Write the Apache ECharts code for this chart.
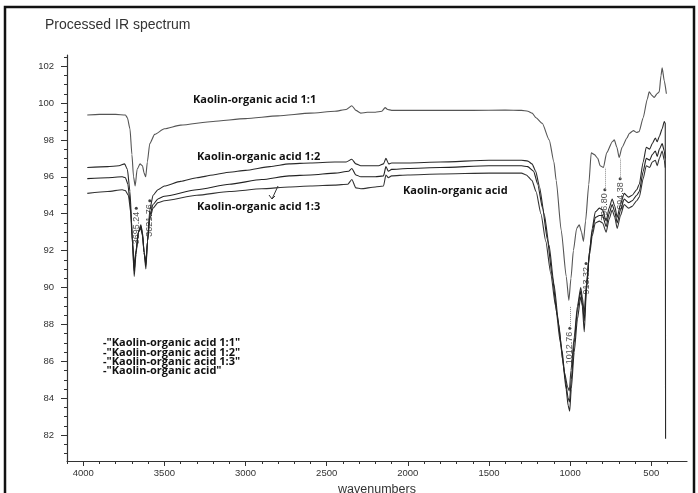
<!DOCTYPE html>
<html>
<head>
<meta charset="utf-8">
<script src="https://cdn.jsdelivr.net/npm/echarts@6/dist/echarts.min.js"></script>
<style>
html, body { margin: 0; background: #fff; }
#main { width: 698px; height: 493px; }
</style>
</head>
<body>
<div id="main"></div>
<script>
// [wavenumber, %T]
var ir11 = [[3975,99.35],[3900,99.38],[3800,99.38],[3740,99.35],[3728,99.2],[3712,98.6],[3700,97.2],[3690,96.0],[3680,95.5],[3668,96.4],[3650,96.7],[3635,96.6],[3625,96.2],[3615,96.0],[3605,96.8],[3590,97.8],[3560,98.3],[3500,98.6],[3400,98.8],[3200,99.0],[3000,99.15],[2800,99.3],[2600,99.45],[2450,99.55],[2380,99.65],[2345,99.85],[2320,99.6],[2290,99.45],[2250,99.5],[2200,99.5],[2160,99.55],[2140,99.75],[2125,99.65],[2100,99.6],[1950,99.6],[1800,99.6],[1600,99.6],[1400,99.62],[1300,99.6],[1260,99.55],[1234,99.45],[1210,99.2],[1172,98.9],[1129,98.0],[1100,96.8],[1086,95.8],[1055,93.1],[1024,90.6],[1008,89.3],[995,90.5],[980,92.0],[960,93.2],[944,93.4],[930,93.0],[918,92.5],[905,93.6],[885,95.6],[870,97.3],[850,97.2],[830,97.0],[815,96.6],[795,96.5],[775,97.3],[740,97.9],[728,98.0],[712,97.6],[698,97.05],[680,97.6],[650,98.1],[636,98.35],[610,98.5],[590,98.4],[575,98.45],[550,99.2],[525,100.2],[513,100.6],[495,100.4],[482,100.3],[465,100.5],[451,100.6],[440,101.5],[433,101.9],[420,101.2],[407,100.5]];
var ir12 = [[3975,96.5],[3850,96.55],[3780,96.6],[3745,96.7],[3728,96.4],[3712,95.2],[3698,92.8],[3686,90.6],[3675,91.8],[3660,93.0],[3645,93.4],[3635,93.0],[3625,91.9],[3614,91.0],[3604,92.5],[3590,94.2],[3570,95.0],[3540,95.3],[3500,95.5],[3400,95.75],[3300,95.95],[3200,96.1],[3100,96.25],[3000,96.35],[2850,96.55],[2731,96.7],[2600,96.75],[2450,96.8],[2380,96.8],[2345,96.95],[2320,96.7],[2290,96.6],[2180,96.6],[2150,96.7],[2135,97.0],[2118,96.7],[2100,96.75],[2000,96.75],[1800,96.8],[1500,96.9],[1300,96.9],[1260,96.85],[1235,96.7],[1212,96.3],[1190,95.5],[1160,94.0],[1130,92.3],[1100,90.2],[1070,88.0],[1045,86.0],[1025,84.5],[1012,83.6],[1003,83.3],[993,84.5],[975,86.5],[955,88.3],[935,89.5],[925,89.0],[913,87.6],[900,89.8],[880,92.0],[864,93.2],[845,94.1],[820,94.3],[800,94.2],[778,93.6],[760,94.3],[741,94.8],[725,94.4],[710,93.8],[690,94.5],[667,95.1],[640,94.9],[618,95.0],[590,95.3],[574,95.6],[550,96.8],[531,97.6],[510,97.5],[494,97.8],[475,98.1],[464,97.9],[450,98.2],[433,98.6],[420,99.0],[414,98.9],[412,81.8]];
var irAcid = [[3975,95.9],[3850,95.95],[3760,96.0],[3740,95.95],[3725,95.6],[3710,94.5],[3697,92.4],[3686,90.9],[3675,91.9],[3660,93.0],[3645,93.3],[3635,92.9],[3625,91.9],[3614,91.2],[3604,92.5],[3590,93.9],[3570,94.5],[3540,94.8],[3500,94.95],[3300,95.3],[3100,95.6],[2900,95.85],[2731,96.05],[2600,96.1],[2450,96.2],[2365,96.3],[2345,96.45],[2320,96.1],[2290,96.0],[2200,96.0],[2150,96.05],[2135,96.55],[2120,96.3],[2100,96.4],[2000,96.45],[1800,96.5],[1500,96.6],[1300,96.6],[1262,96.55],[1225,96.3],[1200,95.6],[1170,94.3],[1140,92.6],[1110,90.6],[1080,88.5],[1050,86.6],[1030,85.0],[1012,84.0],[1004,83.8],[993,85.0],[975,87.0],[955,88.8],[935,89.8],[925,89.2],[913,88.2],[900,90.0],[880,92.0],[864,93.0],[845,93.8],[820,93.9],[800,93.9],[778,93.3],[760,94.0],[741,94.5],[725,94.1],[710,93.5],[690,94.2],[667,94.8],[640,94.6],[618,94.7],[590,95.0],[574,95.2],[550,96.3],[531,97.0],[510,96.9],[494,97.2],[475,97.4],[464,97.1],[450,97.5],[433,97.8],[420,97.4],[414,97.0]];
var ir13 = [[3975,95.1],[3850,95.2],[3760,95.3],[3740,95.25],[3722,95.0],[3706,94.0],[3696,92.5],[3686,91.2],[3675,92.0],[3660,93.0],[3645,93.2],[3635,92.8],[3625,91.9],[3614,91.4],[3604,92.5],[3590,93.7],[3570,94.3],[3540,94.6],[3500,94.7],[3300,95.0],[3100,95.2],[2900,95.35],[2731,95.45],[2600,95.5],[2450,95.55],[2370,95.6],[2345,95.85],[2320,95.4],[2290,95.35],[2200,95.45],[2150,95.5],[2135,96.1],[2120,95.95],[2100,96.05],[2000,96.1],[1800,96.15],[1500,96.2],[1300,96.2],[1270,96.1],[1235,95.8],[1210,95.2],[1180,94.0],[1150,92.5],[1120,90.8],[1090,89.0],[1060,87.0],[1035,85.4],[1015,84.6],[1005,84.4],[995,85.5],[975,87.3],[955,89.0],[935,90.0],[925,89.5],[913,88.6],[900,90.2],[880,91.8],[864,92.8],[845,93.5],[820,93.6],[800,93.5],[778,93.0],[760,93.7],[741,94.2],[725,93.8],[710,93.2],[690,93.9],[667,94.5],[640,94.3],[618,94.4],[590,94.7],[574,94.9],[550,95.9],[531,96.6],[510,96.5],[494,96.8],[475,96.9],[464,96.6],[450,97.0],[433,97.4],[420,96.9],[414,96.5]];

// peak picks (where the dot sits on the scan)
var peakWn = [3673, 3590, 1002, 902, 786, 692];
var peakDot = [94.3, 94.7, 87.8, 91.3, 95.3, 95.9];
var peakText = ["3695.24", "3621.76", "1012.76", "913.32", "796.80", "694.38"];
var peakTop = [null, null, 89.0, null, 96.5, 97.0];   // end of dotted guide

var xTicks = [4000, 3500, 3000, 2500, 2000, 1500, 1000, 500];
var yTicks = [82, 84, 86, 88, 90, 92, 94, 96, 98, 100, 102];
var legendNames = ['"Kaolin-organic acid 1:1"', '"Kaolin-organic acid 1:2"', '"Kaolin-organic acid 1:3"', '"Kaolin-organic acid"'];

var xMinor = [], yMinor = [];
for (var w = 400; w <= 4100; w += 100) if (w % 500) xMinor.push(w);
for (var v = 81; v <= 102.5; v += 0.5) if (v % 2) yMinor.push(v);

var chart = echarts.init(document.getElementById("main"));
var axisCol = "#333";
var lblFont = "Liberation Sans";
var noteFont = '"Open Sans"';

function curve(data, col) {
  return {
    type: "line",
    data: data,
    symbol: "none",
    smooth: 0.2,
    smoothMonotone: "x",
    lineStyle: { color: col, width: 1.1 },
    silent: true,
    z: 3
  };
}

var peakData = peakWn.map(function (w, i) { return [w, peakDot[i]]; });
var guides = [];
peakWn.forEach(function (w, i) {
  if (peakTop[i] != null) guides.push([{ coord: [w, peakDot[i]] }, { coord: [w, peakTop[i]] }]);
});

function note(txt, x, y, size) {
  return {
    type: "text", x: x, y: y, silent: true,
    style: { text: txt, font: "bold " + (size || 11) + "px " + noteFont, fill: "#111", align: "left", verticalAlign: "middle" }
  };
}

var graphics = [
  { type: "rect", silent: true, shape: { x: 5, y: 7, width: 689, height: 495 }, style: { fill: "none", stroke: "#111", lineWidth: 2.5 } },
  { type: "text", x: 45, y: 25, silent: true, style: { text: "Processed IR spectrum", font: "14px " + lblFont, fill: "#333", verticalAlign: "middle" } },
  note("Kaolin-organic acid 1:1", 193, 100),
  note("Kaolin-organic acid 1:2", 197, 157),
  note("Kaolin-organic acid 1:3", 197, 207),
  note("Kaolin-organic acid", 403, 191),
  { type: "polyline", silent: true, shape: { points: [[278, 186], [272, 199]] }, style: { stroke: "#333", lineWidth: 1 } },
  { type: "polyline", silent: true, shape: { points: [[269, 195], [272, 199], [275, 196]] }, style: { stroke: "#333", lineWidth: 1, fill: "none" } }
];
var legY = [343, 353, 362, 371];
legendNames.forEach(function (n, i) { graphics.push(note("-" + n, 103, legY[i])); });

var option = {
  animation: false,
  backgroundColor: "#fff",
  grid: { left: 67, right: 11, top: 55, bottom: 32, outerBoundsMode: "none" },
  xAxis: [
    {
      type: "value", inverse: true, min: 280, max: 4100,
      name: "wavenumbers", nameLocation: "middle", nameGap: 17,
      nameTextStyle: { color: "#333", fontSize: 12.5, fontFamily: lblFont },
      axisLine: { show: true, lineStyle: { color: axisCol, width: 1.2 } },
      axisTick: { show: true, customValues: xTicks, length: 5, lineStyle: { color: axisCol } },
      axisLabel: { customValues: xTicks, margin: 7, color: "#333", fontSize: 9.5, fontFamily: lblFont,
        formatter: function (val) { return String(val); } },
      splitLine: { show: false }
    },
    {
      type: "value", inverse: true, min: 280, max: 4100, position: "bottom",
      axisLine: { show: false },
      axisTick: { show: true, customValues: xMinor, length: 3, lineStyle: { color: axisCol } },
      axisLabel: { show: false },
      splitLine: { show: false }
    }
  ],
  yAxis: [
    {
      type: "value", min: 80.6, max: 102.6,
      axisLine: { show: true, lineStyle: { color: axisCol, width: 1.2 } },
      axisTick: { show: true, customValues: yTicks, length: 6, lineStyle: { color: axisCol } },
      axisLabel: { customValues: yTicks, margin: 13, color: "#333", fontSize: 9.5, fontFamily: lblFont },
      splitLine: { show: false }
    },
    {
      type: "value", min: 80.6, max: 102.6, position: "left",
      axisLine: { show: false },
      axisTick: { show: true, customValues: yMinor, length: 3, lineStyle: { color: axisCol } },
      axisLabel: { show: false },
      splitLine: { show: false }
    }
  ],
  series: [
    curve(ir11, "#555"),
    curve(ir12, "#2a2a2a"),
    curve(ir13, "#333"),
    curve(irAcid, "#222"),
    {
      type: "scatter",
      data: peakData,
      symbol: "circle",
      symbolSize: 3,
      itemStyle: { color: "#111" },
      silent: true,
      z: 4,
      label: {
        show: true,
        position: "bottom",
        distance: 2,
        rotate: 90,
        align: "right",
        verticalAlign: "middle",
        fontSize: 9,
        fontFamily: lblFont,
        color: "#222",
        formatter: function (p) { return peakText[p.dataIndex]; }
      },
      markLine: {
        silent: true,
        symbol: "none",
        label: { show: false },
        lineStyle: { color: "#888", type: "dotted", width: 1 },
        data: guides
      }
    }
  ],
  graphic: graphics
};
chart.setOption(option);
</script>
</body>
</html>
